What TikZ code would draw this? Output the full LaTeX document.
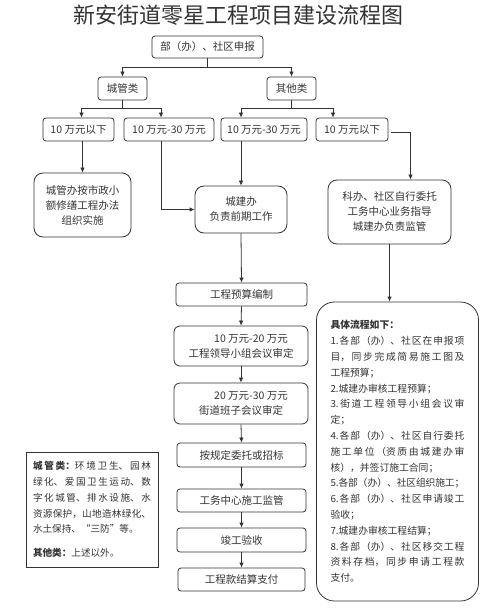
\documentclass[tikz,border=0pt]{standalone}
\usepackage{fontspec}
\setmainfont{Noto Sans CJK SC}
\usetikzlibrary{arrows.meta}
\XeTeXlinebreaklocale "zh"
\XeTeXlinebreakskip=0pt plus 2pt minus 0.6pt
\definecolor{ink}{HTML}{333333}
\tikzset{
  box/.style={draw,rounded corners=3pt,line width=0.8pt,align=center,inner sep=0pt,
    font=\fontsize{10.5}{15}\selectfont},
  roundbox/.style={box,rounded corners=9pt},
  stepsbox/.style={draw,rounded corners=18pt,line width=0.8pt,align=justify,inner xsep=14pt,
    inner ysep=0pt,font=\fontsize{9.8}{15.8}\selectfont},
  notebox/.style={draw,line width=0.8pt,align=justify,inner xsep=7pt,inner ysep=0pt,
    font=\fontsize{9.6}{15.8}\selectfont},
}
\begin{document}
\begin{tikzpicture}[x=1pt,y=-1pt,>={Latex[length=5pt,width=4.5pt]},line width=0.8pt,color=ink]
\useasboundingbox (0,0) rectangle (500,612);
\node[font=\fontsize{22}{26}\selectfont] (title) at (238,15) {新安街道零星工程项目建设流程图};

% top of the tree
\node[box,minimum width=111pt,minimum height=22pt] (report) at (207.5,47) {部（办）、社区申报};
\node[box,minimum width=49pt,minimum height=23pt] (urban) at (122.5,88.5) {城管类};
\node[box,minimum width=49pt,minimum height=23pt] (other) at (291.5,88.5) {其他类};
\node[box,minimum width=71pt,minimum height=23pt] (urbanlow) at (78.5,129.5) {10 万元以下};
\node[box,minimum width=90pt,minimum height=23pt] (urbanmid) at (169,129.5) {10 万元-30 万元};
\node[box,minimum width=86pt,minimum height=23pt] (othermid) at (264,129.5) {10 万元-30 万元};
\node[box,minimum width=72pt,minimum height=23pt] (otherlow) at (352,129.5) {10 万元以下};

% second level
\node[roundbox,minimum width=97pt,minimum height=64pt] (urbanplan) at (82.5,205) {城管办按市政小\\额修缮工程办法\\组织实施};
\node[roundbox,minimum width=92pt,minimum height=47pt] (prework) at (241,209.5) {城建办\\负责前期工作};
\node[roundbox,minimum width=123pt,minimum height=64pt] (selfentrust) at (389.5,212) {科办、社区自行委托\\工务中心业务指导\\城建办负责监管};

% main chain
\node[box,minimum width=131pt,minimum height=23pt] (budget) at (241.5,294.5) {工程预算编制};
\node[box,rounded corners=6pt,minimum width=134pt,minimum height=40pt] (review1) at (241,346) {\hspace*{20pt}10 万元-20 万元\\工程领导小组会议审定};
\node[box,rounded corners=6pt,minimum width=134pt,minimum height=41pt] (review2) at (241,403.5) {\hspace*{20pt}20 万元-30 万元\\街道班子会议审定};
\node[box,minimum width=129pt,minimum height=24pt] (tender) at (241.5,455) {按规定委托或招标};
\node[box,minimum width=129pt,minimum height=23pt] (supervise) at (241.5,500.5) {工务中心施工监管};
\node[box,minimum width=129pt,minimum height=24pt] (accept) at (241.5,540) {竣工验收};
\node[box,minimum width=127pt,minimum height=23pt] (payment) at (241.5,579.5) {工程款结算支付};

% detail box and note
\node[stepsbox,text width=134pt,minimum height=299pt] (steps) at (397.5,451.5) {%
\textbf{具体流程如下：}\\
1.各部（办）、社区在申报项\linebreak
目，同步完成简易施工图及\linebreak
工程预算；\\
2.城建办审核工程预算；\\
3.街道工程领导小组会议审\linebreak
定；\\
4.各部（办）、社区自行委托\linebreak
施工单位（资质由城建办审\linebreak
核），并签订施工合同；\\
5.各部（办）、社区组织施工；\linebreak
6.各部（办）、社区申请竣工\linebreak
验收；\\
7.城建办审核工程结算；\\
8.各部（办）、社区移交工程\linebreak
资料存档，同步申请工程款\linebreak
支付。};
\node[notebox,text width=118pt,minimum height=115pt] (note) at (92,509.5) {%
\textbf{城管类：}环境卫生、园林\linebreak
绿化、爱国卫生运动、数\linebreak
字化城管、排水设施、水\linebreak
资源保护，山地造林绿化、\linebreak
水土保持、“三防”等。\\[8pt]
\textbf{其他类：}上述以外。};

% connectors
\draw (report.south) -- ++(0,9) coordinate (split1);
\draw[->] (split1) -| (urban.north);
\draw[->] (split1) -| (other.north);
\draw (urban.south) -- ++(0,8) coordinate (split2);
\draw[->] (split2) -| ([xshift=3pt]urbanlow.north);
\draw[->] (split2) -| ([xshift=-8pt]urbanmid.north);
\draw (other.south) -- ++(0,8) coordinate (split3);
\draw[->] (split3) -| ([xshift=-23pt]othermid.north);
\draw[->] (split3) -| ([xshift=-19pt]otherlow.north);
\draw[->] (urbanlow.south -| urbanplan.north) -- (urbanplan.north);
\draw[->] ([xshift=-8pt]urbanmid.south) |- (prework.west);
\draw[->] (othermid.south -| prework.north) -- (prework.north);
\draw[->] ([xshift=3pt,yshift=-2.5pt]otherlow.east) -| ([xshift=21pt]selfentrust.north);
\foreach \a/\b in {prework/budget,budget/review1,review1/review2,review2/tender,
  tender/supervise,supervise/accept,accept/payment}
  \draw[->] (\a.south) -- (\b.north);
\draw[->] (selfentrust.south) -- (selfentrust.south |- steps.north);
\end{tikzpicture}
\end{document}
